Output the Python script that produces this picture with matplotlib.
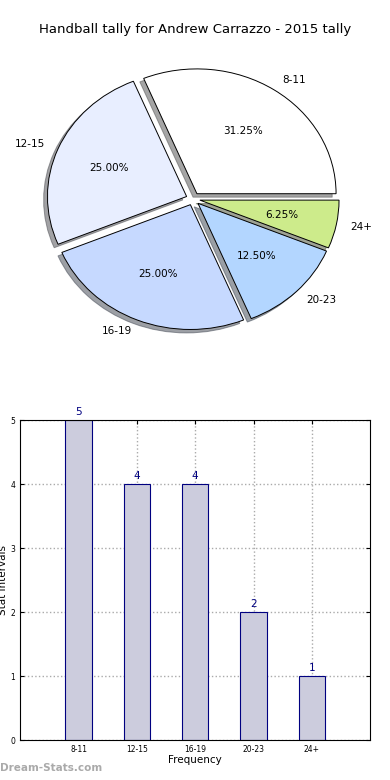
import matplotlib
matplotlib.use("Agg")
import matplotlib.pyplot as plt

categories = ["8-11", "12-15", "16-19", "20-23", "24+"]
counts = [5, 4, 4, 2, 1]
slice_colors = ["#ffffff", "#e8eeff", "#c6d9ff", "#b3d6ff", "#cdeb8b"]
title = "Handball tally for Andrew Carrazzo - 2015 tally"

fig = plt.figure(figsize=(3.9, 7.8), dpi=100, facecolor="white")

# pie (old-style, not forced circular)
ax1 = fig.add_axes([0.049, 0.545, 0.892, 0.400])
ax1.patch.set_visible(False)
wedges, texts, autotexts = ax1.pie(
    counts,
    labels=categories,
    colors=slice_colors,
    explode=[0.05] * len(counts),
    autopct="%1.2f%%",
    shadow=True,
    startangle=0,
    wedgeprops={"edgecolor": "black", "linewidth": 0.7},
    textprops={"fontsize": 7.5},
)
ax1.set_aspect("auto")
fig.text(0.5, 0.962, title, ha="center", va="center", fontsize=9.5)

# bars
ax2 = fig.add_axes([0.052, 0.051, 0.897, 0.41])
x = list(range(len(categories)))
ax2.bar(x, counts, width=0.45, color="#ccccdd", edgecolor="navy", linewidth=0.8, zorder=2)
for xi, v in zip(x, counts):
    ax2.text(xi, v + 0.05, str(v), ha="center", va="bottom", color="navy", fontsize=7.5)
ax2.set_xlim(-1, 5)
ax2.set_ylim(0, 5)
ax2.set_xticks(x)
ax2.set_xticklabels(categories, fontsize=5.5)
ax2.set_yticks(range(6))
ax2.tick_params(axis="y", labelsize=5.5)
ax2.tick_params(direction="in", top=True, right=True, length=3)
ax2.grid(True, linestyle=":", color="#aaaaaa", linewidth=1, zorder=0)
ax2.set_axisbelow(True)
ax2.set_xlabel("Frequency", fontsize=7.5, labelpad=1)
ax2.set_ylabel("Stat intervals", fontsize=7.5, labelpad=2)

fig.text(0.0, 0.012, "Dream-Stats.com", color="#aaaaaa", fontsize=7.5, fontweight="bold")

fig.savefig("out.png", dpi=100, facecolor="white")
